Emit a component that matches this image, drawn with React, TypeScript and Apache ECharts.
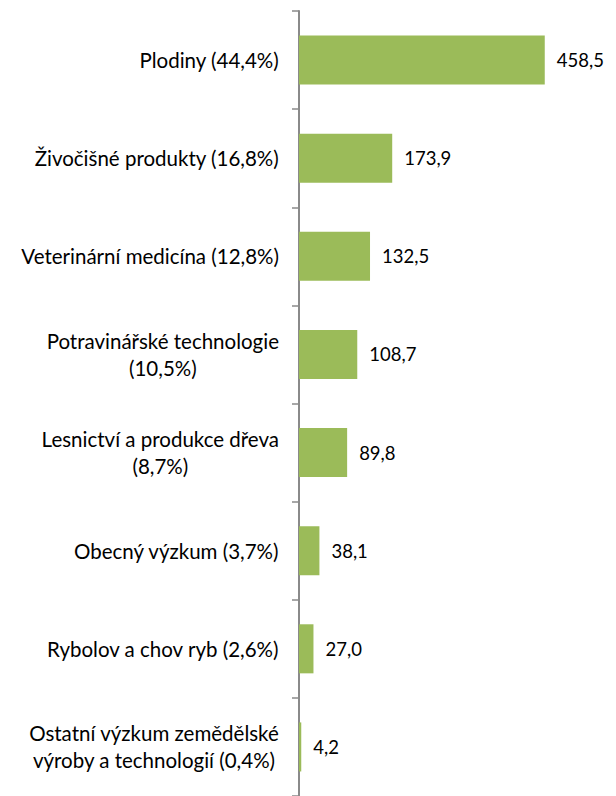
import React, { useEffect, useRef } from "react";
import * as echarts from "echarts";

const categories = [
  "Plodiny (44,4%)",
  "Živočišné produkty (16,8%)",
  "Veterinární medicína (12,8%)",
  "Potravinářské technologie\n(10,5%)",
  "Lesnictví a produkce dřeva\n(8,7%)",
  "Obecný výzkum (3,7%)",
  "Rybolov a chov ryb (2,6%)",
  "Ostatní výzkum zemědělské\nvýroby a technologií (0,4%)",
];
const values = [458.5, 173.9, 132.5, 108.7, 89.8, 38.1, 27.0, 4.2];

export default function App() {
  const ref = useRef<HTMLDivElement>(null);
  useEffect(() => {
    if (!ref.current) return;
    const chart = echarts.init(ref.current, undefined, { renderer: "svg" });
    const font = "Lato, 'Open Sans', sans-serif";
    chart.setOption({
      animation: false,
      grid: { left: 299, top: 11, width: 268, height: 790, containLabel: false },
      xAxis: {
        type: "value",
        min: 0,
        max: 500,
        show: false,
      },
      yAxis: {
        type: "category",
        inverse: true,
        data: categories,
        axisLine: { show: true, lineStyle: { color: "#8a8a8a", width: 2 } },
        axisTick: { show: true, length: 7, lineStyle: { color: "#8a8a8a", width: 1.5 } },
        axisLabel: {
          margin: 20,
          color: "#000",
          fontFamily: font,
          fontSize: 20.5,
          lineHeight: 27,
          formatter: (v: string) =>
            v
              .split("\n")
              .map((l) => `{c|${l}}`)
              .join("\n"),
          rich: {
            c: { align: "center", fontFamily: font, fontSize: 20.5, lineHeight: 27, color: "#000" },
          },
        },
        splitLine: { show: false },
      },
      series: [
        {
          type: "bar",
          data: values,
          barWidth: "50%",
          itemStyle: { color: "#9bbb59" },
          label: {
            show: true,
            position: "right",
            distance: 12,
            color: "#000",
            fontFamily: font,
            fontSize: 18.5,
            formatter: (p: any) => p.value.toFixed(1).replace(".", ","),
          },
        },
      ],
    });
    return () => chart.dispose();
  }, []);
  return <div ref={ref} style={{ width: 616, height: 796, position: "absolute", left: 0, top: 0 }} />;
}
